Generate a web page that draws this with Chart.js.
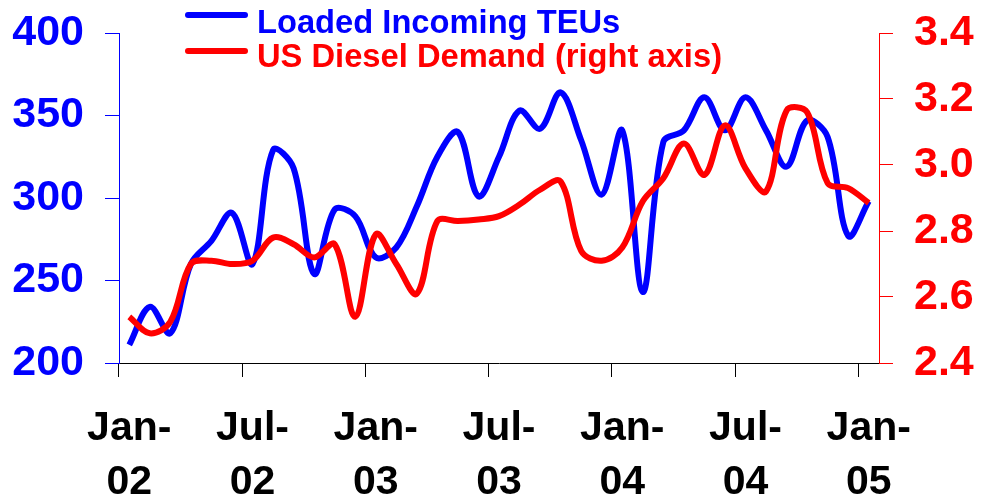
<!DOCTYPE html>
<html>
<head>
<meta charset="utf-8">
<script src="https://cdn.jsdelivr.net/npm/chart.js@4/dist/chart.umd.min.js"></script>
<style>
  html, body { margin: 0; padding: 0; background: #fff; }
  #wrap { position: relative; width: 991px; height: 501px; }
  #legend { position: absolute; left: 185px; top: 5px; font: bold 32.7px 'Liberation Sans', Arial, sans-serif; }
  .row { position: relative; height: 34px; line-height: 34px; white-space: nowrap; }
  .swatch { position: absolute; left: 0; top: 7px; width: 63px; height: 6px; border-radius: 3px; }
  .row + .row .swatch { top: 9px; }
  .txt { position: absolute; left: 72px; top: 0; }
</style>
</head>
<body>
<div id="wrap">
  <canvas id="myChart" width="991" height="501"></canvas>
  <div id="legend"></div>
</div>
<script>
// months, one point per month (mid-month)
var months = ['Jan-02','Feb-02','Mar-02','Apr-02','May-02','Jun-02',
              'Jul-02','Aug-02','Sep-02','Oct-02','Nov-02','Dec-02',
              'Jan-03','Feb-03','Mar-03','Apr-03','May-03','Jun-03',
              'Jul-03','Aug-03','Sep-03','Oct-03','Nov-03','Dec-03',
              'Jan-04','Feb-04','Mar-04','Apr-04','May-04','Jun-04',
              'Jul-04','Aug-04','Sep-04','Oct-04','Nov-04','Dec-04',
              'Jan-05'];

// left axis
var teus = [211, 234, 218, 260, 274, 291,
            260, 329, 318, 254, 293, 289,
            264, 270, 295, 325, 340, 301,
            325, 353, 342, 364, 335, 302,
            341, 243, 334, 341, 361, 341,
            361, 341, 319, 347, 337, 277,
            298];

// right axis
var diesel = [2.54, 2.49, 2.525, 2.70, 2.71, 2.70,
              2.71, 2.78, 2.76, 2.72, 2.76, 2.54,
              2.79, 2.70, 2.61, 2.83, 2.83, 2.835,
              2.845, 2.88, 2.925, 2.95, 2.74, 2.71,
              2.75, 2.89, 2.96, 3.065, 2.97, 3.12,
              2.99, 2.92, 3.165, 3.16, 2.945, 2.93,
              2.885];

var leftTicks = [200, 250, 300, 350, 400];
var rightTicks = [2.4, 2.6, 2.8, 3.0, 3.2, 3.4];

var FONT = "'Liberation Sans', Arial, sans-serif";
var BLUE = '#0000ff';
var RED = '#ff0000';

// html legend, two rows, built from the datasets
var htmlLegend = {
  id: 'htmlLegend',
  afterUpdate: function (chart) {
    var box = document.getElementById('legend');
    box.innerHTML = '';
    chart.data.datasets.forEach(function (ds) {
      var row = document.createElement('div');
      row.className = 'row';
      var sw = document.createElement('span');
      sw.className = 'swatch';
      sw.style.background = ds.borderColor;
      var t = document.createElement('span');
      t.className = 'txt';
      t.style.color = ds.borderColor;
      t.textContent = ds.label;
      row.appendChild(sw);
      row.appendChild(t);
      box.appendChild(row);
    });
  }
};

// only every 6th month gets a tick mark
function tickCol(c) {
  return (c.index % 6 === 0 && c.index < months.length) ? '#000' : 'rgba(0,0,0,0)';
}

var ctx = document.getElementById('myChart').getContext('2d');
var chart = new Chart(ctx, {
  type: 'line',
  data: {
    labels: months,
    datasets: [{
      label: 'Loaded Incoming TEUs',
      data: teus,
      yAxisID: 'y',
      borderColor: BLUE,
      backgroundColor: BLUE,
      borderWidth: 6,
      pointRadius: 0,
      tension: 0.35,
      order: 2
    }, {
      label: 'US Diesel Demand (right axis)',
      data: diesel,
      yAxisID: 'y2',
      borderColor: RED,
      backgroundColor: RED,
      borderWidth: 6,
      pointRadius: 0,
      tension: 0.35,
      order: 1
    }]
  },
  options: {
    responsive: false,
    devicePixelRatio: 1,
    animation: false,
    layout: { padding: { top: 33, left: 0, right: 0, bottom: 0 } },
    plugins: {
      legend: { display: false },
      tooltip: { enabled: false }
    },
    scales: {
      x: {
        type: 'category',
        offset: true,
        grid: { offset: true, drawOnChartArea: false, tickLength: 14, color: tickCol, tickColor: tickCol },
        border: { color: '#000', width: 1 },
        ticks: {
          autoSkip: false,
          maxRotation: 0,
          minRotation: 0,
          padding: 25,
          color: '#000',
          font: { family: FONT, size: 41, weight: 'bold', lineHeight: 54 / 41 },
          callback: function (v, i) {
            if (i % 6 !== 0) return '';
            var p = months[i].split('-');
            return [p[0] + '-', p[1]];
          }
        },
        afterFit: function (s) { s.height = 138; }
      },
      y: {
        position: 'left',
        min: leftTicks[0],
        max: leftTicks[leftTicks.length - 1],
        afterBuildTicks: function (s) { s.ticks = leftTicks.map(function (v) { return { value: v }; }); },
        grid: { drawOnChartArea: false, tickLength: 14, color: BLUE },
        border: { color: BLUE, width: 1 },
        ticks: {
          padding: 21,
          color: BLUE,
          font: { family: FONT, size: 43, weight: 'bold', lineHeight: 0.5 }
        },
        afterFit: function (s) { s.width = 119; }
      },
      y2: {
        position: 'right',
        min: rightTicks[0],
        max: rightTicks[rightTicks.length - 1],
        afterBuildTicks: function (s) { s.ticks = rightTicks.map(function (v) { return { value: v }; }); },
        grid: { drawOnChartArea: false, tickLength: 14, color: RED },
        border: { color: RED, width: 1 },
        ticks: {
          padding: 21,
          color: RED,
          font: { family: FONT, size: 43, weight: 'bold', lineHeight: 0.5 },
          callback: function (v) { return Number(v).toFixed(1); }
        },
        afterFit: function (s) { s.width = 112; }
      }
    }
  },
  plugins: [htmlLegend]
});
</script>
</body>
</html>
